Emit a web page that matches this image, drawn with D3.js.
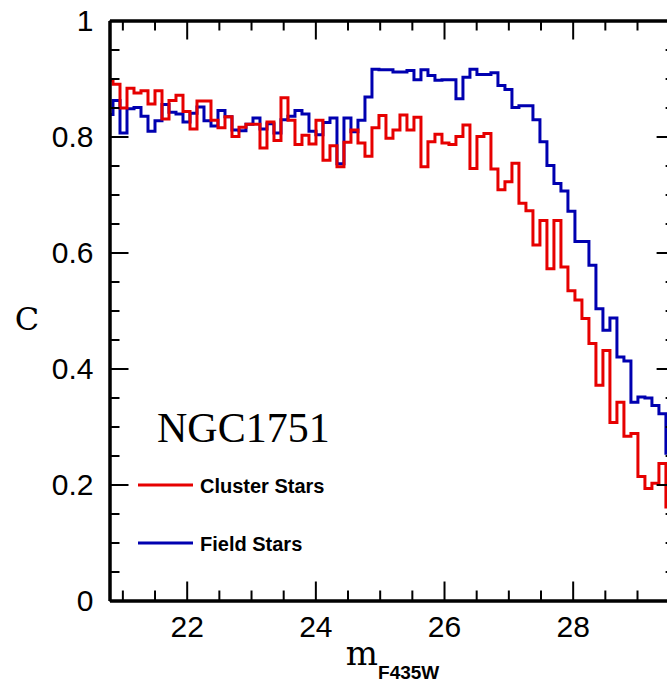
<!DOCTYPE html>
<html>
<head>
<meta charset="utf-8">
<script src="https://cdn.jsdelivr.net/npm/d3@7"></script>
<style>
  html, body { margin: 0; padding: 0; background: #fff; }
  svg { display: block; }
</style>
</head>
<body>
<svg id="chart" width="667" height="686"></svg>
<script>
// Completeness C versus F435W magnitude, binned histogram (bin centres start at binStart)
const binStart = 20.8;
const binWidth = 0.1088;

const clusterC = [
  0.897, 0.890, 0.849, 0.883, 0.875, 0.879, 0.856, 0.879, 0.830, 0.862,
  0.871, 0.843, 0.813, 0.861, 0.861, 0.828, 0.815, 0.834, 0.800, 0.816,
  0.821, 0.821, 0.780, 0.825, 0.793, 0.867, 0.828, 0.786, 0.802, 0.787,
  0.828, 0.759, 0.784, 0.748, 0.790, 0.811, 0.789, 0.766, 0.815, 0.836,
  0.797, 0.811, 0.837, 0.811, 0.833, 0.748, 0.791, 0.804, 0.789, 0.786,
  0.800, 0.820, 0.745, 0.800, 0.805, 0.744, 0.708, 0.722, 0.754, 0.685,
  0.672, 0.613, 0.655, 0.572, 0.655, 0.575, 0.534, 0.518, 0.486, 0.443,
  0.371, 0.431, 0.307, 0.342, 0.283, 0.288, 0.214, 0.193, 0.202, 0.236,
  0.161
];

const fieldC = [
  0.838, 0.862, 0.806, 0.848, 0.850, 0.835, 0.809, 0.827, 0.855, 0.842,
  0.839, 0.825, 0.840, 0.851, 0.827, 0.818, 0.845, 0.834, 0.811, 0.810,
  0.821, 0.832, 0.813, 0.822, 0.806, 0.829, 0.835, 0.845, 0.839, 0.809,
  0.803, 0.824, 0.832, 0.753, 0.832, 0.808, 0.828, 0.868, 0.916, 0.915,
  0.915, 0.911, 0.911, 0.914, 0.898, 0.915, 0.905, 0.897, 0.898, 0.898,
  0.865, 0.902, 0.916, 0.907, 0.907, 0.910, 0.888, 0.881, 0.850, 0.853,
  0.853, 0.829, 0.791, 0.750, 0.719, 0.706, 0.671, 0.619, 0.619, 0.578,
  0.503, 0.466, 0.487, 0.420, 0.413, 0.342, 0.351, 0.349, 0.336, 0.322,
  0.254
];

const xMajorTicks = [22, 24, 26, 28];
const xMinorTicks = [21, 21.5, 22.5, 23, 23.5, 24.5, 25, 25.5, 26.5, 27, 27.5, 28.5, 29, 29.5];
const yMajorTicks = [0, 0.2, 0.4, 0.6, 0.8, 1];
const yMinorTicks = [0.05, 0.1, 0.15, 0.25, 0.3, 0.35, 0.45, 0.5, 0.55, 0.65, 0.7, 0.75, 0.85, 0.9, 0.95];
const yTickLabels = ["0", "0.2", "0.4", "0.6", "0.8", "1"];

const clusterName = "NGC1751";
const seriesNames = ["Cluster Stars", "Field Stars"];
const seriesColors = ["#e60000", "#0000b0"];

const svg = d3.select("#chart");

const plotLeft = 109.5, plotRight = 675.6, plotTop = 20.5, plotBottom = 600.5;
const x = d3.scaleLinear().domain([20.8, 29.6]).range([plotLeft, plotRight]);
const y = d3.scaleLinear().domain([0, 1]).range([plotBottom, plotTop]);

// clip region for the histogram lines
svg.append("defs").append("clipPath").attr("id", "plotClip")
  .append("rect").attr("x", plotLeft).attr("y", plotTop)
  .attr("width", plotRight - plotLeft).attr("height", plotBottom - plotTop);

const toPoints = vals => vals.map((v, i) => [binStart + i * binWidth, v]);
const line = d3.line()
  .x(d => x(d[0]))
  .y(d => y(d[1]))
  .curve(d3.curveStep);

const lines = svg.append("g").attr("clip-path", "url(#plotClip)");
[[fieldC, seriesColors[1]], [clusterC, seriesColors[0]]].forEach(([vals, col]) => {
  lines.append("path")
    .datum(toPoints(vals))
    .attr("d", line)
    .attr("fill", "none")
    .attr("stroke", col)
    .attr("stroke-width", 3)
    .attr("stroke-linejoin", "miter");
});

// axes: ticks point inward on all four sides
function styleAxis(g) {
  g.select(".domain").attr("stroke", "#000").attr("stroke-width", 3);
  g.selectAll(".tick line").attr("stroke", "#000").attr("stroke-width", 2);
  g.selectAll(".tick text")
    .attr("font-family", "'Liberation Sans', Arial, sans-serif")
    .attr("font-size", 30)
    .attr("fill", "#000");
}

const majorLen = 19, minorLen = 10;

// bottom
svg.append("g").attr("transform", `translate(0,${plotBottom})`)
  .call(d3.axisBottom(x).tickValues(xMinorTicks).tickSizeInner(-minorLen).tickSizeOuter(0).tickFormat(""))
  .call(styleAxis);
svg.append("g").attr("transform", `translate(0,${plotBottom})`)
  .call(d3.axisBottom(x).tickValues(xMajorTicks).tickSizeInner(-majorLen).tickSizeOuter(0)
        .tickPadding(15).tickFormat(d3.format("d")))
  .call(styleAxis);

// top
svg.append("g").attr("transform", `translate(0,${plotTop})`)
  .call(d3.axisTop(x).tickValues(xMinorTicks).tickSizeInner(-minorLen).tickSizeOuter(0).tickFormat(""))
  .call(styleAxis);
svg.append("g").attr("transform", `translate(0,${plotTop})`)
  .call(d3.axisTop(x).tickValues(xMajorTicks).tickSizeInner(-majorLen).tickSizeOuter(0).tickFormat(""))
  .call(styleAxis);

// left
svg.append("g").attr("transform", `translate(${plotLeft},0)`)
  .call(d3.axisLeft(y).tickValues(yMinorTicks).tickSizeInner(-minorLen).tickSizeOuter(0).tickFormat(""))
  .call(styleAxis);
svg.append("g").attr("transform", `translate(${plotLeft},0)`)
  .call(d3.axisLeft(y).tickValues(yMajorTicks).tickSizeInner(-majorLen).tickSizeOuter(0)
        .tickPadding(16).tickFormat((d, i) => yTickLabels[i]))
  .call(styleAxis);

// right
svg.append("g").attr("transform", `translate(${plotRight},0)`)
  .call(d3.axisRight(y).tickValues(yMinorTicks).tickSizeInner(-minorLen).tickSizeOuter(0).tickFormat(""))
  .call(styleAxis);
svg.append("g").attr("transform", `translate(${plotRight},0)`)
  .call(d3.axisRight(y).tickValues(yMajorTicks).tickSizeInner(-majorLen).tickSizeOuter(0).tickFormat(""))
  .call(styleAxis);

// axis titles
const xTitle = svg.append("text")
  .attr("x", (plotLeft + plotRight) / 2)
  .attr("y", 665)
  .attr("text-anchor", "middle")
  .attr("fill", "#000");
xTitle.append("tspan")
  .attr("font-family", "'DejaVu Serif', serif")
  .attr("font-size", 34)
  .text("m");
xTitle.append("tspan")
  .attr("font-family", "'Liberation Sans', Arial, sans-serif")
  .attr("font-weight", "bold")
  .attr("font-size", 19)
  .attr("dy", 14)
  .text("F435W");

svg.append("text")
  .attr("x", 27).attr("y", 330)
  .attr("text-anchor", "middle")
  .attr("font-family", "'DejaVu Serif', serif")
  .attr("font-size", 32)
  .attr("fill", "#000")
  .text("C");

// cluster name
svg.append("text")
  .attr("x", 157).attr("y", 442)
  .attr("font-family", "'Liberation Serif', 'Times New Roman', serif")
  .attr("font-size", 42)
  .attr("fill", "#000")
  .text(clusterName);

// legend
const legendRows = [485, 543];
seriesNames.forEach((name, i) => {
  svg.append("line")
    .attr("x1", 138).attr("x2", 193)
    .attr("y1", legendRows[i]).attr("y2", legendRows[i])
    .attr("stroke", seriesColors[i]).attr("stroke-width", 3);
  svg.append("text")
    .attr("x", 200).attr("y", legendRows[i] + 8)
    .attr("font-family", "'Liberation Sans', Arial, sans-serif")
    .attr("font-weight", "bold")
    .attr("font-size", 20)
    .attr("fill", "#000")
    .text(name);
});
</script>
</body>
</html>
